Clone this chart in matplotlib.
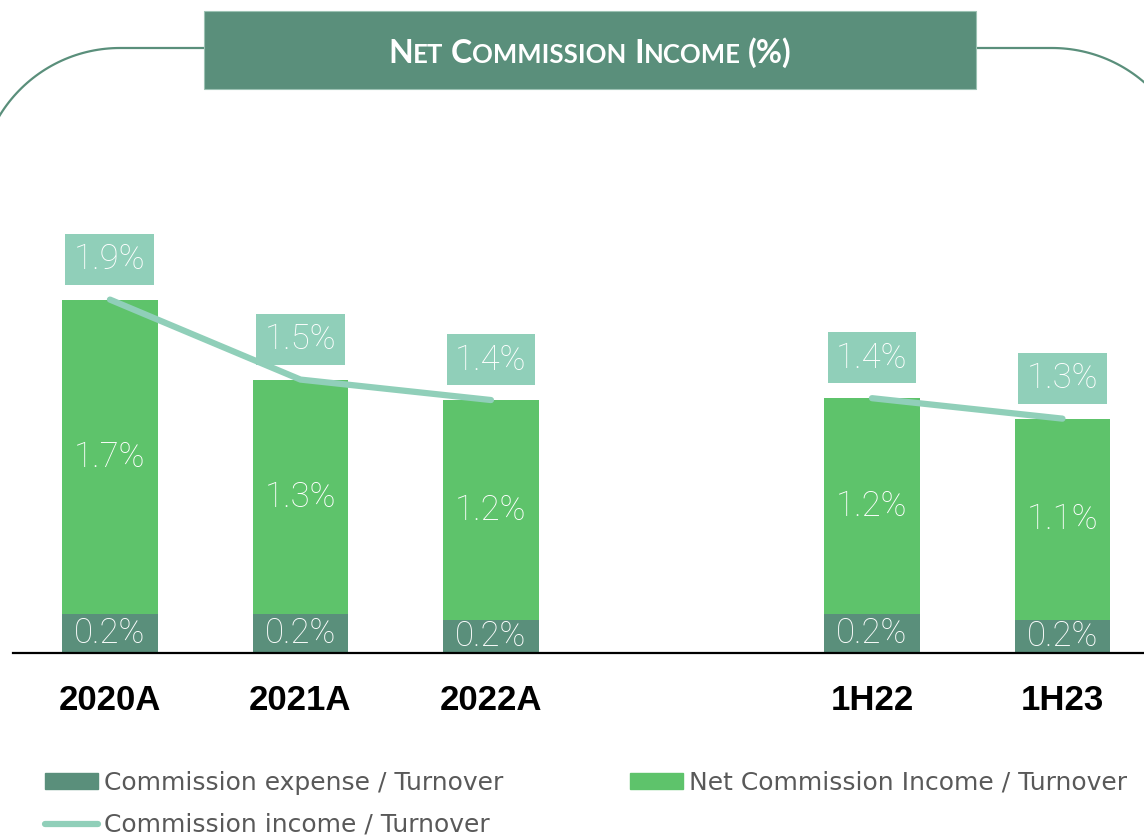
import numpy as np
import matplotlib.pyplot as plt
from matplotlib import patches
from matplotlib.lines import Line2D

plt.rcParams['font.family'] = ['Lato', 'DejaVu Sans']

categories = ['2020A', '2021A', '2022A', '1H22', '1H23']
xpos = [0, 1, 2, 4, 5]
expense = [0.21, 0.21, 0.18, 0.21, 0.18]   # commission expense / turnover (%)
net = [1.69, 1.26, 1.18, 1.16, 1.08]       # net commission income / turnover (%)
groups = [[0, 1, 2], [3, 4]]               # full years, half years

income = [e + n for e, n in zip(expense, net)]

c_exp = '#5A8F7B'
c_net = '#5EC36B'
c_line = '#90CFB9'
val_font = dict(family=['Roboto', 'Lato', 'DejaVu Sans'], fontweight='light', fontsize=25)

W, H = 1144, 835
fig = plt.figure(figsize=(W / 100, H / 100), dpi=100)

# rounded frame behind the header (pixel coords, y up)
r = 141
top = H - 48
th = np.linspace(0, np.pi / 2, 60)
lx = np.concatenate([[-21, -21], 120 - r * np.cos(th), [204]])
ly = np.concatenate([[-50, top - r], top - r + r * np.sin(th), [top]])
rx = np.concatenate([[976], 1052 + r * np.sin(th), [1193, 1193]])
ry = np.concatenate([[top], top - r + r * np.cos(th), [top - r, -50]])
for px, py in [(lx, ly), (rx, ry)]:
    fig.add_artist(Line2D(px / 100, py / 100, transform=fig.dpi_scale_trans,
                          color=c_exp, lw=1.6, zorder=0))

hdr = patches.Rectangle((2.04, (H - 89) / 100), 7.72, 0.78,
                        transform=fig.dpi_scale_trans, fc=c_exp,
                        ec='#9CC2B3', lw=0.8, zorder=1)
fig.add_artist(hdr)

ax = fig.add_axes([13 / W, 182 / H, 1131 / W, 446.4 / H])
ax.set_xlim(-0.509, 5.428)
ax.set_ylim(0, 2.4)
for s in ['top', 'left', 'right']:
    ax.spines[s].set_visible(False)
ax.spines['bottom'].set_linewidth(1.6)
ax.set_yticks([])
ax.set_xticks(xpos)
ax.set_xticklabels(categories, fontsize=25, fontweight='bold',
                   family=['Liberation Sans', 'DejaVu Sans'])
ax.tick_params(axis='x', length=0, pad=22)

bw = 0.5
ax.bar(xpos, expense, bw, color=c_exp, zorder=2)
ax.bar(xpos, net, bw, bottom=expense, color=c_net, zorder=2)

for g in groups:
    ax.plot([xpos[i] for i in g], [income[i] for i in g], color=c_line,
            lw=4.5, solid_capstyle='round', zorder=3)

for x, e, n, t in zip(xpos, expense, net, income):
    ax.text(x, e / 2, f'{e:.1f}%', ha='center', va='center', color='white',
            zorder=4, **val_font)
    ax.text(x, e + n / 2, f'{n:.1f}%', ha='center', va='center', color='white',
            zorder=4, **val_font)
    ax.annotate(f'{t:.1f}%', (x, t), xytext=(0, 29), textcoords='offset points',
                ha='center', va='center', color='white', zorder=5,
                bbox=dict(boxstyle='square,pad=0.25', fc=c_line, ec='none'),
                **val_font)

# header text in small caps
parts = [('N', 23), ('ET', 18.5), (' ', 18.5), ('C', 23), ('OMMISSION', 18.5), (' ', 18.5),
         ('I', 23), ('NCOME', 18.5), (' ', 18.5), ('(%)', 23)]
renderer = fig.canvas.get_renderer()
txts = []
for s, fs in parts:
    t = fig.text(0, 0, s if s != ' ' else '-', fontsize=fs, fontweight='bold',
                 color='white', va='baseline', ha='left', zorder=6)
    txts.append(t)
widths = [t.get_window_extent(renderer).width for t in txts]
for i, (s, fs) in enumerate(parts):
    if s == ' ':
        widths[i] = fs * 0.4
        txts[i].set_text('')
total = sum(widths)
x0 = 590 - total / 2
for t, w in zip(txts, widths):
    t.set_position((x0 / W, (H - 63) / H))
    x0 += w

# legend
h_exp = patches.Patch(color=c_exp)
h_net = patches.Patch(color=c_net)
h_line = Line2D([], [], color=c_line, lw=4.5, solid_capstyle='round')
leg_kw = dict(frameon=False, labelcolor='#595959',
              handlelength=2.1, handleheight=0.6, handletextpad=0.25,
              labelspacing=0.72, borderpad=0, borderaxespad=0,
              prop={'family': 'DejaVu Sans', 'size': 18})
fig.legend([h_exp, h_line], ['Commission expense / Turnover', 'Commission income / Turnover'],
           loc='upper left', bbox_to_anchor=(45 / W, (H - 771) / H), **leg_kw)
fig.legend([h_net], ['Net Commission Income / Turnover'],
           loc='upper left', bbox_to_anchor=(630 / W, (H - 771) / H), **leg_kw)

fig.savefig('out.png', dpi=100)
